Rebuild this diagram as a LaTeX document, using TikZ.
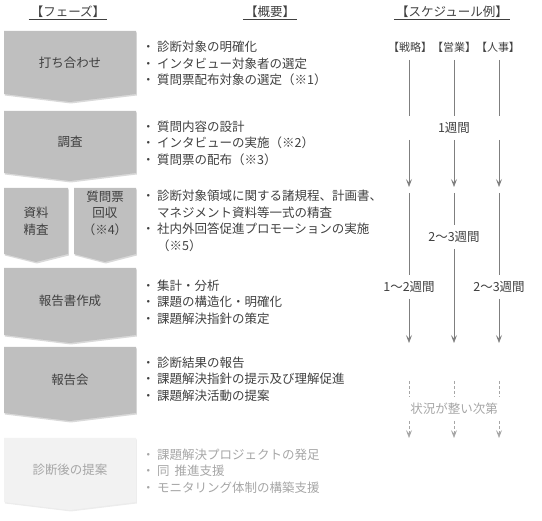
\documentclass[tikz,border=0pt]{standalone}
\usepackage{fontspec}
\setmainfont{Noto Sans CJK JP}
\usepackage{tikz}
\usetikzlibrary{arrows.meta, shadows}

\definecolor{txt}{HTML}{404040}
\definecolor{boxgray}{HTML}{BFBFBF}
\definecolor{boxlight}{HTML}{F2F2F2}
\definecolor{fadetxt}{HTML}{A6A6A6}
\definecolor{linegray}{HTML}{7F7F7F}

\newcommand\bl{\makebox[15pt][l]{・}}
\newcommand\ind{\hspace*{15pt}}

\begin{document}
\begin{tikzpicture}[
  x=1pt, y=-1pt,
  every node/.style={font=\fontsize{12.5}{16.5}\selectfont, text=txt, inner sep=0pt},
  head/.style={inner xsep=2pt, inner ysep=1.5pt},
  uline/.style={draw=txt, line width=0.7pt},
  phase/.style={fill=boxgray, drop shadow={shadow xshift=0.8pt, shadow yshift=-1.5pt, opacity=0.3}},
  phaselight/.style={fill=boxlight, drop shadow={shadow xshift=0.8pt, shadow yshift=-1.5pt, opacity=0.15}},
  plabel/.style={align=center},
  items/.style={align=left, anchor=west},
  gap/.style={inner ysep=6pt, inner xsep=2pt},
  sched/.style={draw=linegray, line width=0.6pt},
  arr/.style={sched, -{Stealth[length=8pt, width=6pt, inset=3.5pt]}},
  wait/.style={draw=fadetxt, line width=0.6pt, dash pattern=on 3pt off 2pt},
  waitarr/.style={wait, -{Stealth[length=8pt, width=6pt, inset=3.5pt]}},
]
  \useasboundingbox (0,0) rectangle (542,521);

  % headers
  \node[head] (hPhase) at (68,12) {【フェーズ】};
  \node[head] (hSum) at (270,12) {【概要】};
  \node[head] (hSched) at (452,12) {【スケジュール例】};
  \foreach \h in {hPhase,hSum,hSched}
    \draw[uline] (\h.south west) -- (\h.south east);

  % phase chevrons
  \foreach \xa/\xb/\ya/\yb in {4/136/31/94, 4/136/111/173, 4/68/188/254,
                              74/136/188/254, 4/136/268/335, 4/136/347/413}
    \path[phase] (\xa,\ya) -- (\xb,\ya) -- (\xb,\yb)
      -- ({(\xa+\xb)/2},{\yb+8}) -- (\xa,\yb) -- cycle;
  \path[phaselight] (4,438) -- (136,438) -- (136,502) -- (70,510) -- (4,502) -- cycle;

  \node (p1) at (70,63) {打ち合わせ};
  \node (p2) at (70,142) {調査};
  \node[plabel] (p3a) at (36,221) {資料\\精査};
  \node[plabel] (p3b) at (105,213) {質問票\\回収\\（※4）};
  \node (p4) at (70,301) {報告書作成};
  \node (p5) at (70,380) {報告会};
  \node[text=fadetxt] (p6) at (70,470) {診断後の提案};

  % outline items
  \node[items] (o1) at (142,63.5) {\bl 診断対象の明確化\\\bl インタビュー対象者の選定\\\bl 質問票配布対象の選定（※1）};
  \node[items] (o2) at (142,143) {\bl 質問内容の設計\\\bl インタビューの実施（※2）\\\bl 質問票の配布（※3）};
  \node[items] (o3) at (142,221) {\bl 診断対象領域に関する諸規程、計画書、\\\ind マネジメント資料等一式の精査\\\bl 社内外回答促進プロモーションの実施\\\ind （※5）};
  \node[items] (o4) at (142,302) {\bl 集計・分析\\\bl 課題の構造化・明確化\\\bl 課題解決指針の策定};
  \node[items] (o5) at (142,379) {\bl 診断結果の報告\\\bl 課題解決指針の提示及び理解促進\\\bl 課題解決活動の提案};
  \node[items, text=fadetxt] (o6) at (142,471) {\bl 課題解決プロジェクトの発足\\\bl 同\hspace{5pt}推進支援\\\bl モニタリング体制の構築支援};

  % schedule
  \node[font=\fontsize{11}{13}\selectfont] (dept) at (454,47) {【戦略】【営業】【人事】};
  \foreach \c/\x in {sA/409, sB/454, sC/499} {
    \coordinate (\c0) at (\x,60);
    \coordinate (\c3) at (\x,187);
    \coordinate (\c4) at (\x,193);
    \coordinate (\c5) at (\x,343);
    \coordinate (\c6) at (\x,381);
    \coordinate (\c9) at (\x,438);
  }
  \node[gap] (wk1) at (454,128) {1週間};
  \node[gap] (wkA) at (409,287) {1〜2週間};
  \node[gap] (wkB) at (454,237) {2〜3週間};
  \node[gap] (wkC) at (499,287) {2〜3週間};
  \node[gap, text=fadetxt] (wait) at (454,409) {状況が整い次第};

  \foreach \c in {sA,sB,sC} {
    \draw[sched] (\c0) -- (\c0 |- wk1.north);
    \draw[arr] (\c0 |- wk1.south) -- (\c3);
  }
  \draw[sched] (sA4) -- (wkA.north);
  \draw[arr] (wkA.south) -- (sA5);
  \draw[sched] (sB4) -- (wkB.north);
  \draw[arr] (wkB.south) -- (sB5);
  \draw[sched] (sC4) -- (wkC.north);
  \draw[arr] (wkC.south) -- (sC5);

  \foreach \c in {sA,sB,sC} {
    \draw[wait] (\c6) -- (\c6 |- wait.north);
    \draw[waitarr] (\c6 |- wait.south) -- (\c9);
  }
\end{tikzpicture}
\end{document}
